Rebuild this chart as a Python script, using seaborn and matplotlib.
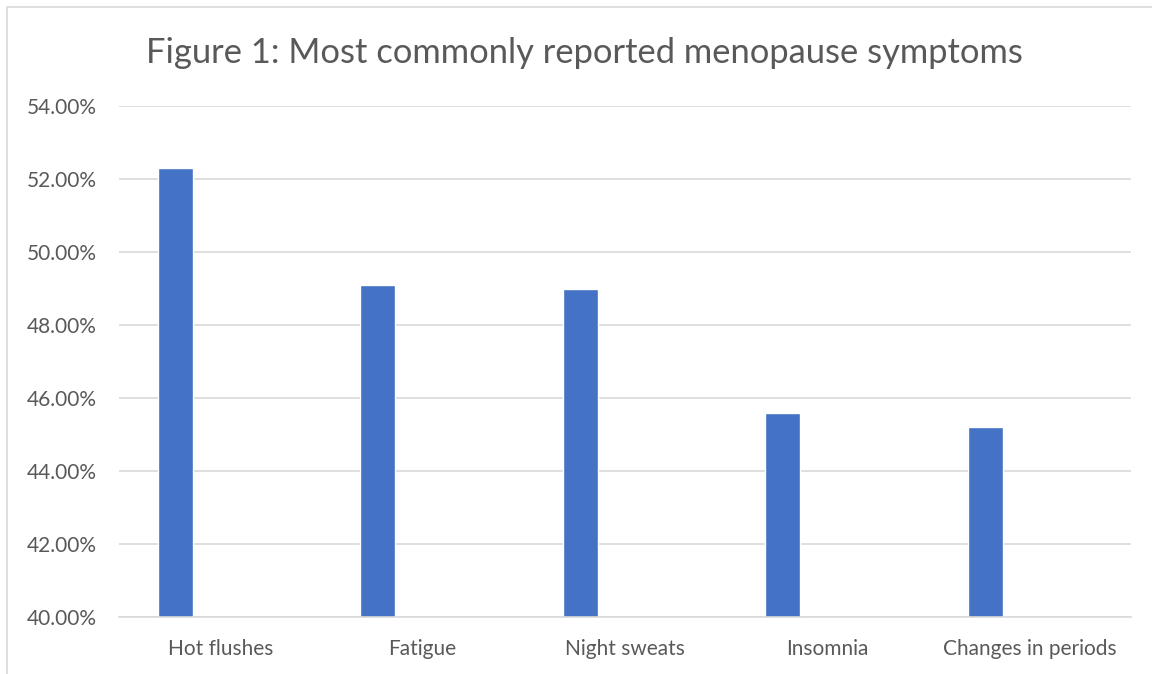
import matplotlib
matplotlib.use('Agg')
import matplotlib.pyplot as plt
import numpy as np
import pandas as pd
import seaborn as sns
from matplotlib.patches import Rectangle
from matplotlib.ticker import FuncFormatter

symptoms = ['Hot flushes', 'Fatigue', 'Night sweats', 'Insomnia', 'Changes in periods']
share = [52.3, 49.1, 49.0, 45.6, 45.2]
y_ticks = [40, 42, 44, 46, 48, 50, 52, 54]

# Excel-style clustered layout: one real series plus an empty one
df = pd.DataFrame({
    'Symptom': symptoms * 2,
    'Share': share + [np.nan] * len(symptoms),
    'Series': ['s1'] * len(symptoms) + ['s2'] * len(symptoms),
})

sns.set_style('white')
plt.rcParams['font.family'] = ['Lato', 'DejaVu Sans']

W, H = 1152, 674
fig = plt.figure(figsize=(W / 100, H / 100), dpi=100)
ax = fig.add_axes([119 / W, 1 - 617 / H, (1131 - 119) / W, (617 - 106) / H])

sns.barplot(data=df, x='Symptom', y='Share', hue='Series', order=symptoms,
            palette={'s1': '#4472C4', 's2': '#ED7D31'}, width=0.884, gap=0.61,
            saturation=1, legend=False, ax=ax)

ax.set_ylim(40, 54)
ax.set_yticks(y_ticks)
ax.yaxis.set_major_formatter(FuncFormatter(lambda v, p: f'{v:.2f}%'))
ax.grid(axis='y', color='#d9d9d9', linewidth=1.2)
ax.set_axisbelow(True)
for s in ['top', 'right', 'left']:
    ax.spines[s].set_visible(False)
ax.spines['bottom'].set_color('#d9d9d9')
ax.spines['bottom'].set_linewidth(1.2)
ax.tick_params(axis='both', length=0, labelsize=15, labelcolor='#595959')
ax.tick_params(axis='x', pad=16)
ax.tick_params(axis='y', pad=16)
ax.set_xlabel('')
ax.set_ylabel('')

fig.text(584 / W, 1 - 63 / H, 'Figure 1: Most commonly reported menopause symptoms',
         ha='center', va='baseline', fontsize=24.8, color='#595959')

# chart border (only top and left are inside the crop)
fig.patches.append(Rectangle((7 / W, -0.1), 1.2, 1 - 7 / H + 0.1, transform=fig.transFigure,
                             fill=False, edgecolor='#d9d9d9', linewidth=1.2))

plt.savefig('out.png', dpi=100)
plt.close()
